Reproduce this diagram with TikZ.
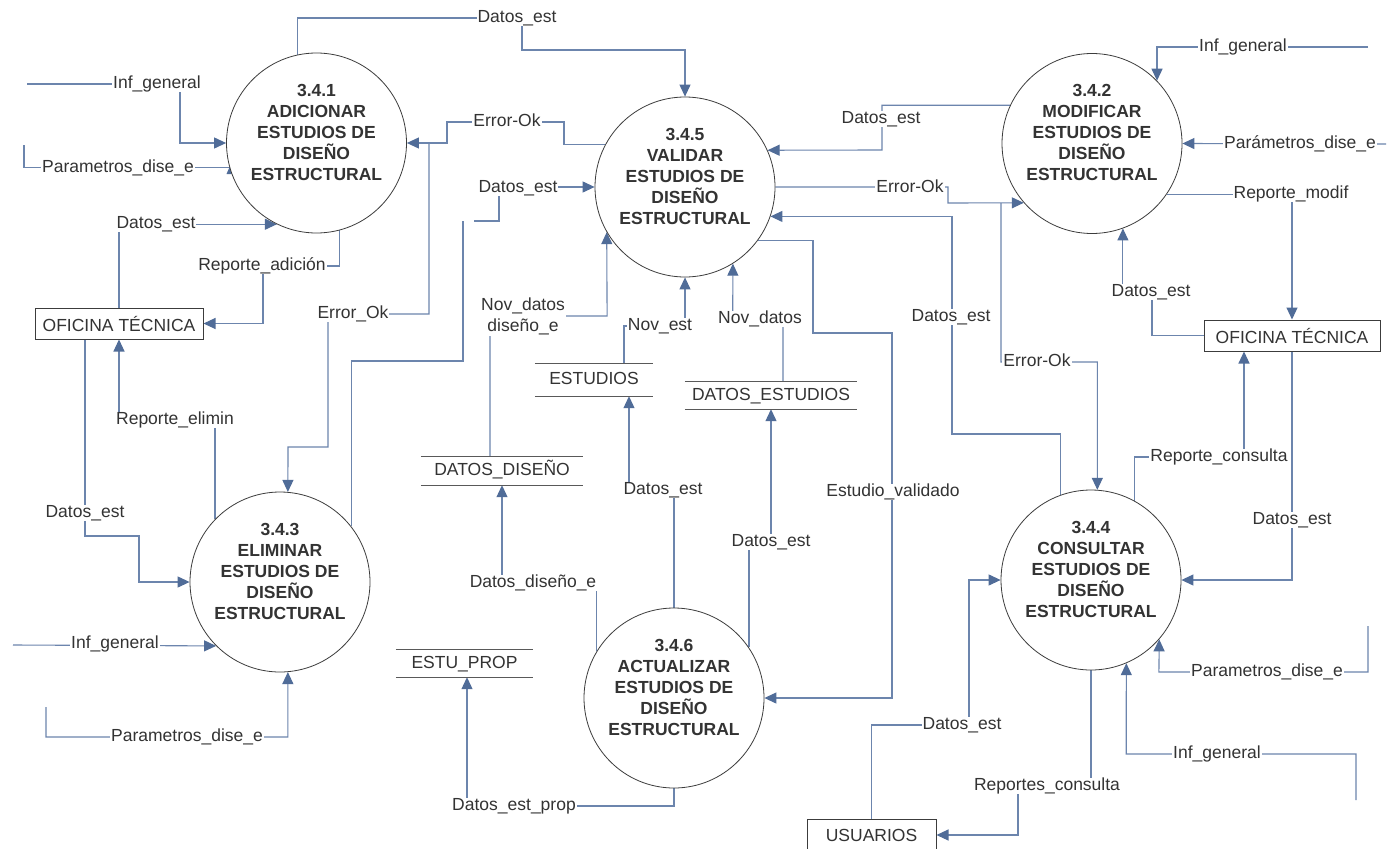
\documentclass[tikz,border=0pt]{standalone}
\usepackage{fontspec}
\setmainfont{Liberation Sans}
\usetikzlibrary{arrows.meta,backgrounds}

\definecolor{flowc}{RGB}{108,133,173}
\definecolor{tipc}{RGB}{80,108,152}
\definecolor{txtc}{RGB}{51,51,51}
\definecolor{edgec}{RGB}{60,60,60}

\newcommand{\lblfont}{\fontsize{17.5pt}{21pt}\selectfont}
\newcommand{\procfont}{\fontsize{17.5pt}{21pt}\selectfont\bfseries}

\begin{document}
\begin{tikzpicture}[x=1pt,y=-1pt,
  proc/.style={circle, draw=edgec, line width=0.8pt, fill=white, minimum size=180pt, inner sep=0pt},
  proctext/.style={align=center, text=txtc, font=\procfont, inner sep=0pt},
  ent/.style={draw=edgec, line width=1pt, fill=white, text=txtc, font=\lblfont, inner sep=0pt},
  store/.style={text=txtc, font=\lblfont, inner sep=0pt, text height=12.5pt, text depth=3.5pt},
  storeline/.style={draw=edgec!85, line width=0.9pt},
  lab/.style={fill=white, inner xsep=1pt, inner ysep=0pt, text height=12.5pt, text depth=3.5pt, text=txtc, font=\lblfont},
  lab2/.style={fill=white, inner xsep=1pt, inner ysep=1pt, align=center, text=txtc, font=\lblfont},
  flow/.style={draw=flowc, line width=1.1pt, -{Triangle[length=12pt,width=11pt,color=tipc]}},
  link/.style={draw=flowc, line width=1.1pt}
]
\useasboundingbox (0,0) rectangle (1388,848);

% ---------- processes ----------
\node[proc] (p1) at (316.5,143) {};
\node[proctext] (p1t) at (316.5,132) {3.4.1\\ADICIONAR\\ESTUDIOS DE\\DISEÑO\\ESTRUCTURAL};
\node[proc] (p5) at (685,187) {};
\node[proctext] (p5t) at (685,176) {3.4.5\\VALIDAR\\ESTUDIOS DE\\DISEÑO\\ESTRUCTURAL};
\node[proc] (p2) at (1092,143.5) {};
\node[proctext] (p2t) at (1092,132.5) {3.4.2\\MODIFICAR\\ESTUDIOS DE\\DISEÑO\\ESTRUCTURAL};
\node[proc] (p3) at (280,582) {};
\node[proctext] (p3t) at (280,571) {3.4.3\\ELIMINAR\\ESTUDIOS DE\\DISEÑO\\ESTRUCTURAL};
\node[proc] (p4) at (1091,580) {};
\node[proctext] (p4t) at (1091,569) {3.4.4\\CONSULTAR\\ESTUDIOS DE\\DISEÑO\\ESTRUCTURAL};
\node[proc] (p6) at (674,698) {};
\node[proctext] (p6t) at (674,687) {3.4.6\\ACTUALIZAR\\ESTUDIOS DE\\DISEÑO\\ESTRUCTURAL};

% ---------- external entities ----------
\node[ent, minimum width=168pt, minimum height=31pt] (o1) at (119,323.5) {OFICINA TÉCNICA};
\node[ent, minimum width=176pt, minimum height=31pt] (o2) at (1292,335.5) {OFICINA TÉCNICA};
\node[ent, minimum width=129pt, minimum height=32pt] (us) at (871.5,835) {USUARIOS};

% ---------- data stores ----------
\node[store, minimum width=118pt, minimum height=32pt] (es) at (594,380) {ESTUDIOS};
\node[store, minimum width=172pt, minimum height=27pt] (de) at (771,395.5) {DATOS\_ESTUDIOS};
\node[store, minimum width=162pt, minimum height=28pt] (dd) at (502,471) {DATOS\_DISEÑO};
\node[store, minimum width=137pt, minimum height=27pt] (ep) at (464.5,663.5) {ESTU\_PROP};
\foreach \s in {es,de,dd,ep}{
  \draw[storeline] (\s.north west) -- (\s.north east) (\s.south west) -- (\s.south east);
}

% ---------- flow labels ----------
\node[lab] (l1)  at (517,18)    {Datos\_est};
\node[lab] (l2)  at (157,84)    {Inf\_general};
\node[lab] (l3)  at (118,168)   {Parametros\_dise\_e};
\node[lab] (l4)  at (156,224)   {Datos\_est};
\node[lab] (l5)  at (262,266)   {Reporte\_adición};
\node[lab] (l6)  at (507,122)   {Error-Ok};
\node[lab] (l6b) at (353,314)   {Error\_Ok};
\node[lab] (l7)  at (518,188)   {Datos\_est};
\node[lab] (l8)  at (175,420)   {Reporte\_elimin};
\node[lab] (l9)  at (85,513)    {Datos\_est};
\node[lab] (l10) at (115,644)   {Inf\_general};
\node[lab] (l11) at (187,737)   {Parametros\_dise\_e};
\node[lab] (l12) at (881,119)   {Datos\_est};
\node[lab] (l13) at (910,188)   {Error-Ok};
\node[lab] (l14) at (1037,362)  {Error-Ok};
\node[lab] (l15) at (951,317)   {Datos\_est};
\node[lab] (l16) at (893,492)   {Estudio\_validado};
\node[lab2] (l17) at (523,316.5) {Nov\_datos\\diseño\_e};
\node[lab] (l18) at (660,326)   {Nov\_est};
\node[lab] (l19) at (760,319)   {Nov\_datos};
\node[lab] (l20) at (533,583)   {Datos\_diseño\_e};
\node[lab] (l21) at (663,490)   {Datos\_est};
\node[lab] (l22) at (771,542)   {Datos\_est};
\node[lab] (l23) at (514,806)   {Datos\_est\_prop};
\node[lab] (l24) at (1243,47)   {Inf\_general};
\node[lab] (l25) at (1300,144)  {Parámetros\_dise\_e};
\node[lab] (l26) at (1291,194)  {Reporte\_modif};
\node[lab] (l27) at (1151,292)  {Datos\_est};
\node[lab] (l28) at (1219,457)  {Reporte\_consulta};
\node[lab] (l29) at (1292,520)  {Datos\_est};
\node[lab] (l30) at (1267,672)  {Parametros\_dise\_e};
\node[lab] (l31) at (1217,754)  {Inf\_general};
\node[lab] (l32) at (1047,786)  {Reportes\_consulta};
\node[lab] (l33) at (962,725)   {Datos\_est};

% free ends of the incoming flows
\coordinate (in1) at (27,84);
\coordinate (in2) at (24,145);
\coordinate (in3) at (13,645);
\coordinate (in4) at (46,707);
\coordinate (in5) at (1368,47);
\coordinate (in6) at (1386,144);
\coordinate (in7) at (1368,626);
\coordinate (in8) at (1356,800);
% branch points
\coordinate (j1) at (429,143);
\coordinate (j2) at (1001,203);

% ---------- data flows ----------
\begin{scope}[on background layer]
\fill[white] (0,0) rectangle (1388,848);

% around 3.4.1
\draw[flow] (p1.102) |- (522,18) |- (685,50) -- (p5.north);
\draw[flow] (in1) -| (180,143) -- (p1.west);
\draw[link] (in2) |- (p1.196);
\fill[tipc] (226.5,174) -- (232,161.5) -- (237.5,174) -- cycle;
\draw[flow] (o1.north) |- (p1.244);
\draw[flow] (p1.285) |- (263,266) |- (o1.east);
\draw[flow] (p5.152) -| (564,122) -| (447,143) -- (p1.east);
\draw[flow] (j1) |- (328,314) |- (288,447) -- (p3.85);

% around 3.4.3
\draw[link] (p3.38) |- (463,361) -- (463,221);
\draw[flow] (474,221) -| (499,187) -- (p5.west);
\draw[flow] (p3.136) |- (119,420) -- (o1.south);
\draw[flow] ([xshift=-34pt]o1.south) |- (139,536) |- (p3.west);
\draw[flow] (in3) -- (p3.225);
\draw[flow] (in4) |- (287.8,737) -- (p3.275);

% around 3.4.5
\draw[flow] (p2.155) -| (882,150) -- (p5.24);
\draw[flow] (p5.east) -| (948,203) -- (p2.221);
\draw[flow] (j2) |- (1097.3,362) -- (p4.86);
\draw[flow] (p4.110) |- (952,434) |- (p5.341);
\draw[flow] (p5.324) -| (813,333) -| (892,698) -- (p6.east);
\draw[flow] ([xshift=-12pt]dd.north) |- (607.1,316) -- (p5.210);
\draw[flow] ([xshift=30pt]es.north) |- (685,326) -- (p5.south);
\draw[flow] ([xshift=12pt]de.north) |- (732.7,319) -- (p5.302);

% around 3.4.6
\draw[flow] (p6.149) |- (502,583) -- (dd.south);
\draw[flow] (p6.north) |- (629,490) -- ([xshift=35pt]es.south);
\draw[flow] (p6.34) |- (771,542) -- (de.south);
\draw[flow] (p6.south) |- (467,806) -- ([xshift=2.5pt]ep.south);

% around 3.4.2
\draw[flow] (in5) -| (p2.44);
\draw[flow] (in6) -- (p2.east);
\draw[flow] (p2.326) -| (o2.north);
\draw[flow] (o2.west) -| (1152,292) -| (p2.290);

% around 3.4.4
\draw[flow] (p4.61) |- (1244,457) -- ([xshift=-48pt]o2.south);
\draw[flow] (o2.south) |- (p4.east);
\draw[flow] (in7) |- (1158.9,672) -- (p4.319);
\draw[flow] (in8) |- (1126.2,754) -- (p4.293);
\draw[flow] (p4.south) |- (1018,786) |- (us.east);
\draw[flow] (us.north) |- (969,725) |- (p4.west);
\end{scope}
\end{tikzpicture}
\end{document}
